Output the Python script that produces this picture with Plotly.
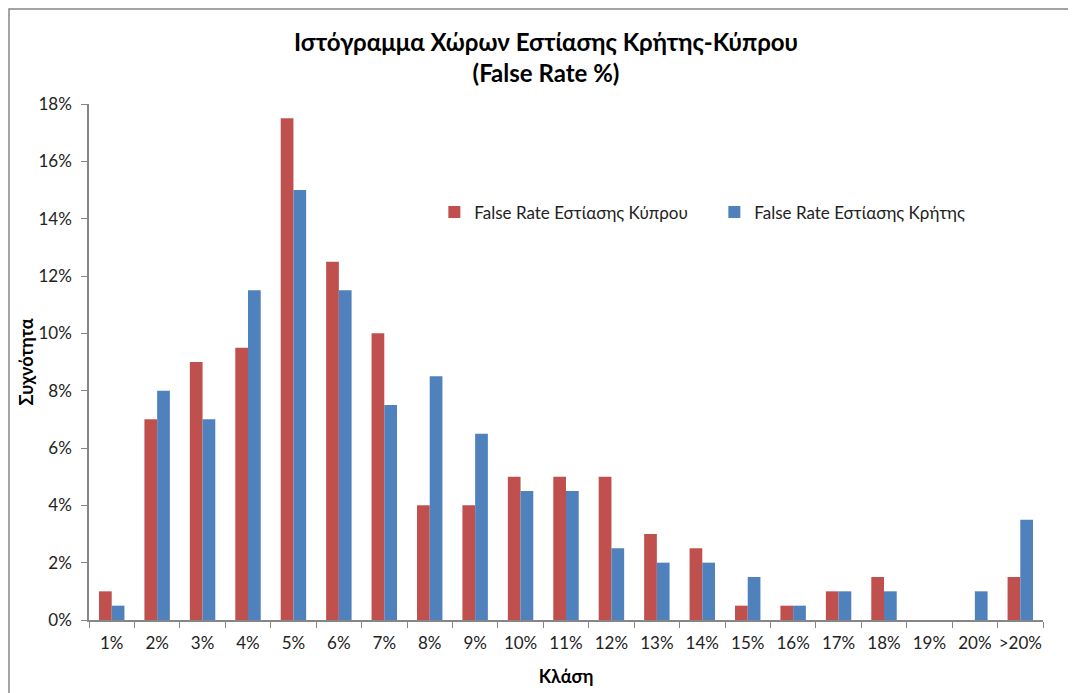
import plotly.graph_objects as go

categories = ['1%', '2%', '3%', '4%', '5%', '6%', '7%', '8%', '9%', '10%', '11%',
              '12%', '13%', '14%', '15%', '16%', '17%', '18%', '19%', '20%', '>20%']
cyprus = [1, 7, 9, 9.5, 17.5, 12.5, 10, 4, 4, 5, 5, 5, 3, 2.5, 0.5, 0.5, 1, 1.5, 0, 0, 1.5]
crete = [0.5, 8, 7, 11.5, 15, 11.5, 7.5, 8.5, 6.5, 4.5, 4.5, 2.5, 2, 2, 1.5, 0.5, 1, 1, 0, 1, 3.5]
y_ticks = [0, 2, 4, 6, 8, 10, 12, 14, 16, 18]

FONT = 'Lato, Open Sans, sans-serif'

fig = go.Figure()
fig.add_trace(go.Bar(x=categories, y=cyprus, name='False Rate Εστίασης Κύπρου',
                     marker=dict(color='#C0504D', line=dict(width=0))))
fig.add_trace(go.Bar(x=categories, y=crete, name='False Rate Εστίασης Κρήτης',
                     marker=dict(color='#4F81BD', line=dict(width=0))))

# page has an 8px body margin, so margins are set 8px smaller at top/left
fig.update_layout(
    width=1076, height=693, autosize=False,
    margin=dict(l=81, r=41, t=96, b=81, autoexpand=False),
    paper_bgcolor='white', plot_bgcolor='white',
    font=dict(family=FONT, size=17, color='#222222'),
    barmode='group', bargap=0.44, bargroupgap=0,
    title=dict(text='<b>Ιστόγραμμα Χώρων Εστίασης Κρήτης-Κύπρου<br>(False Rate %)</b>',
               x=0.5, xanchor='center', y=0.938, yanchor='middle',
               font=dict(size=24, family=FONT, color='black')),
    legend=dict(orientation='h', x=0.362, y=0.79, xanchor='left', yanchor='middle',
                font=dict(size=17), bgcolor='rgba(0,0,0,0)', traceorder='normal',
                itemwidth=30, entrywidth=235),
    showlegend=True,
)

fig.update_xaxes(
    showline=True, linecolor='#868686', linewidth=1.5,
    ticks='outside', tickson='boundaries', ticklen=6, tickcolor='#868686',
    showgrid=False, tickfont=dict(size=17), tickangle=0, ticklabelstandoff=7,
    title=dict(text='<b>Κλάση</b>', font=dict(size=18, color='black'), standoff=18),
)
fig.update_yaxes(
    range=[0, 18], tickvals=y_ticks, ticktext=[f'{v}%' for v in y_ticks],
    showline=True, linecolor='#868686', linewidth=1.5,
    ticks='outside', ticklen=6, tickcolor='#868686',
    showgrid=False, zeroline=False, tickfont=dict(size=17), ticklabelstandoff=6,
    title=dict(text='<b>Συχνότητα</b>', font=dict(size=18, color='black'), standoff=0),
)

# outer chart frame: only left and top edges are inside the window
left, top = -80 / 954, 1 + 95 / 516
fig.add_shape(type='path', xref='paper', yref='paper',
              path=f'M {left} -0.3 L {left} {top} L 1.2 {top}',
              line=dict(color='#868686', width=1.5))

fig.write_html("out.html")
